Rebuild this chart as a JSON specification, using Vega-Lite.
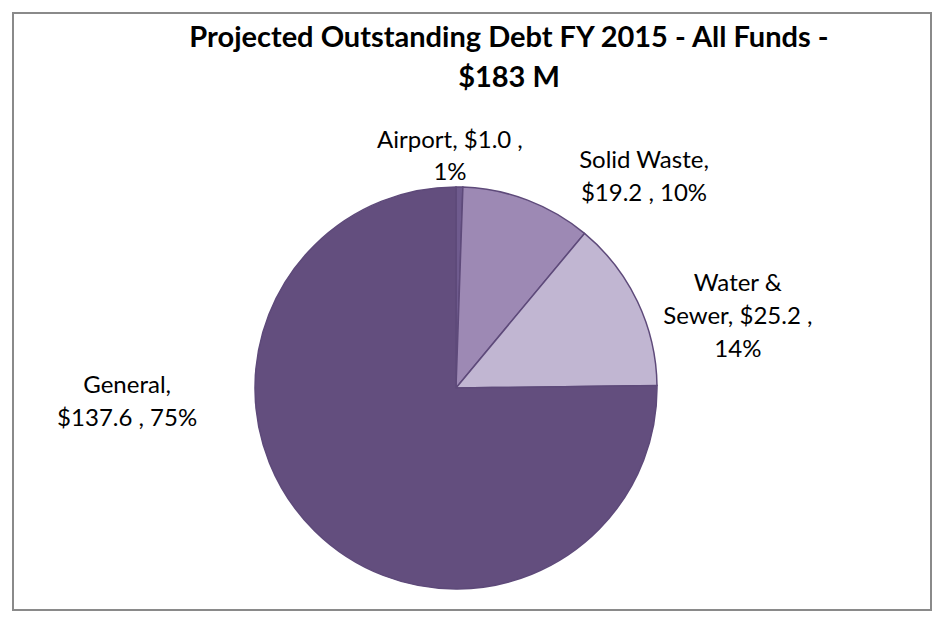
{
  "$schema": "https://vega.github.io/schema/vega-lite/v6.json",
  "width": 918,
  "height": 597,
  "autosize": {"type": "none"},
  "padding": {"left": 13, "top": 13, "right": 4, "bottom": 12},
  "background": "white",
  "view": {"stroke": "#8a8a8a", "strokeWidth": 2, "fill": "white"},
  "title": {
    "text": ["Projected Outstanding Debt FY 2015 - All  Funds -", "$183 M"],
    "font": "Lato",
    "fontSize": 29,
    "fontWeight": "bold",
    "color": "#000000",
    "anchor": "middle",
    "frame": "group",
    "baseline": "top",
    "offset": -80,
    "dx": 37,
    "lineHeight": 40
  },
  "data": {
    "values": [
      {"fund": "Airport", "debt": 1.0, "seq": 1, "label": "Airport, $1.0 ,\n1%"},
      {"fund": "Solid Waste", "debt": 19.2, "seq": 2, "label": "Solid Waste,\n$19.2 , 10%"},
      {"fund": "Water & Sewer", "debt": 25.2, "seq": 3, "label": "Water &\nSewer,  $25.2 ,\n14%"},
      {"fund": "General", "debt": 137.6, "seq": 4, "label": "General,\n$137.6 , 75%"}
    ]
  },
  "transform": [
    {"window": [{"op": "sum", "field": "debt", "as": "cum"}], "sort": [{"field": "seq"}]},
    {"calculate": "datum.cum - datum.debt / 2", "as": "mid"}
  ],
  "layer": [
    {
      "mark": {"type": "arc", "outerRadius": 201, "x": 443, "y": 375, "stroke": "#5e4a7a", "strokeWidth": 1.5},
      "encoding": {
        "theta": {"field": "debt", "type": "quantitative", "stack": true, "scale": {"domain": [0, 183]}},
        "order": {"field": "seq", "type": "quantitative"},
        "color": {
          "field": "fund",
          "type": "nominal",
          "scale": {
            "domain": ["Airport", "Solid Waste", "Water & Sewer", "General"],
            "range": ["#6f5b8e", "#9d89b4", "#c1b6d2", "#634e7e"]
          },
          "legend": null
        }
      }
    },
    {
      "transform": [{"filter": "datum.fund === 'Airport'"}],
      "mark": {"type": "text", "x": 443, "y": 375, "radius": 231, "dx": -10, "dy": -16, "font": "Lato", "fontSize": 24, "lineBreak": "\n", "lineHeight": 32, "align": "center", "baseline": "middle", "color": "#000000"},
      "encoding": {
        "theta": {"field": "mid", "type": "quantitative", "stack": null},
        "text": {"field": "label"}
      }
    },
    {
      "transform": [{"filter": "datum.fund === 'Solid Waste'"}],
      "mark": {"type": "text", "x": 443, "y": 375, "radius": 250, "dx": 99, "dy": 7, "font": "Lato", "fontSize": 24, "lineBreak": "\n", "lineHeight": 33, "align": "center", "baseline": "middle", "color": "#000000"},
      "encoding": {
        "theta": {"field": "mid", "type": "quantitative", "stack": null},
        "text": {"field": "label"}
      }
    },
    {
      "transform": [{"filter": "datum.fund === 'Water & Sewer'"}],
      "mark": {"type": "text", "x": 443, "y": 375, "radius": 300, "dx": 11, "dy": 25, "font": "Lato", "fontSize": 24, "lineBreak": "\n", "lineHeight": 33, "align": "center", "baseline": "middle", "color": "#000000"},
      "encoding": {
        "theta": {"field": "mid", "type": "quantitative", "stack": null},
        "text": {"field": "label"}
      }
    },
    {
      "transform": [{"filter": "datum.fund === 'General'"}],
      "mark": {"type": "text", "x": 443, "y": 375, "radius": 300, "dx": -118, "dy": -215, "font": "Lato", "fontSize": 24, "lineBreak": "\n", "lineHeight": 33, "align": "center", "baseline": "middle", "color": "#000000"},
      "encoding": {
        "theta": {"field": "mid", "type": "quantitative", "stack": null},
        "text": {"field": "label"}
      }
    }
  ]
}
